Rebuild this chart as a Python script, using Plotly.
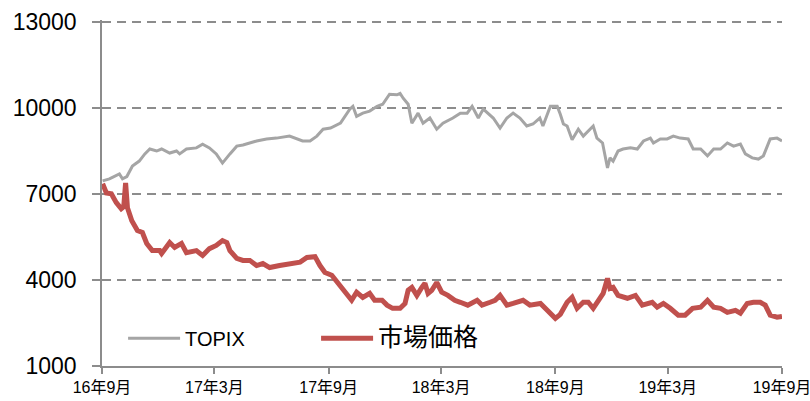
import plotly.graph_objects as go

# ---- data ----
topix_dates = [
    "2016-09-02", "2016-09-13", "2016-09-29", "2016-10-04", "2016-10-11", "2016-10-20", "2016-10-31",
    "2016-11-09", "2016-11-17", "2016-11-28", "2016-12-06", "2016-12-19", "2016-12-30", "2017-01-04",
    "2017-01-15", "2017-01-31", "2017-02-10", "2017-02-21", "2017-03-04", "2017-03-14", "2017-03-26",
    "2017-04-06", "2017-04-16", "2017-04-27", "2017-05-08", "2017-05-24", "2017-06-09", "2017-06-30",
    "2017-07-12", "2017-07-21", "2017-08-02", "2017-08-13", "2017-08-23", "2017-09-04", "2017-09-20",
    "2017-10-05", "2017-10-10", "2017-10-16", "2017-10-26", "2017-11-06", "2017-11-18", "2017-11-27",
    "2017-12-08", "2017-12-20", "2017-12-25", "2017-12-30", "2018-01-07", "2018-01-13", "2018-01-23",
    "2018-01-31", "2018-02-11", "2018-02-22", "2018-03-04", "2018-03-20", "2018-04-01", "2018-04-12",
    "2018-04-20", "2018-04-30", "2018-05-08", "2018-05-24", "2018-06-04", "2018-06-15", "2018-06-25",
    "2018-07-06", "2018-07-17", "2018-07-27", "2018-08-07", "2018-08-12", "2018-08-24", "2018-09-04",
    "2018-09-09", "2018-09-14", "2018-09-20", "2018-09-28", "2018-10-08", "2018-10-16", "2018-11-01",
    "2018-11-07", "2018-11-16", "2018-11-24", "2018-11-28", "2018-12-03", "2018-12-11", "2018-12-19",
    "2018-12-31", "2019-01-11", "2019-01-21", "2019-02-01", "2019-02-06", "2019-02-17", "2019-02-28",
    "2019-03-10", "2019-03-21", "2019-04-03", "2019-04-11", "2019-04-23", "2019-05-04", "2019-05-14",
    "2019-05-25", "2019-06-05", "2019-06-15", "2019-06-26", "2019-07-04", "2019-07-15", "2019-07-25",
    "2019-08-02", "2019-08-13", "2019-08-24", "2019-09-01",
]
topix_values = [
    7450, 7520, 7690, 7520, 7600, 7970, 8140,
    8390, 8560, 8490, 8560, 8420, 8490, 8390,
    8560, 8600, 8730, 8600, 8390, 8070, 8390,
    8660, 8700, 8770, 8840, 8910, 8940, 9010,
    8900, 8840, 8840, 9010, 9250, 9290, 9460,
    9950, 10050, 9700, 9810, 9880, 10050, 10120,
    10470, 10450, 10500, 10330, 10120, 9460, 9810,
    9460, 9640, 9250, 9460, 9640, 9810, 9810,
    10050, 9640, 9950, 9640, 9290, 9640, 9810,
    9640, 9360, 9430, 9640, 9360, 10050, 10050,
    9770, 9430, 9360, 8880, 9250, 9010, 9360,
    8940, 8770, 7900, 8250, 8140, 8490, 8560,
    8600, 8560, 8840, 8940, 8770, 8910, 8910,
    9010, 8940, 8910, 8560, 8560, 8320, 8560,
    8560, 8770, 8660, 8730, 8390, 8250, 8210,
    8320, 8910, 8940, 8840,
]

price_dates = [
    "2016-09-02", "2016-09-08", "2016-09-16", "2016-09-24", "2016-10-02", "2016-10-06", "2016-10-09",
    "2016-10-12", "2016-10-19", "2016-10-28", "2016-11-05", "2016-11-12", "2016-11-21", "2016-12-03",
    "2016-12-06", "2016-12-19", "2016-12-27", "2017-01-07", "2017-01-15", "2017-01-31", "2017-02-10",
    "2017-02-21", "2017-03-04", "2017-03-14", "2017-03-21", "2017-03-26", "2017-04-06", "2017-04-16",
    "2017-04-27", "2017-05-08", "2017-05-18", "2017-05-29", "2017-06-14", "2017-06-30", "2017-07-17",
    "2017-07-28", "2017-08-10", "2017-08-18", "2017-08-26", "2017-09-06", "2017-09-19", "2017-09-30",
    "2017-10-08", "2017-10-16", "2017-10-26", "2017-11-06", "2017-11-14", "2017-11-26", "2017-12-04",
    "2017-12-13", "2017-12-25", "2018-01-02", "2018-01-07", "2018-01-13", "2018-01-21", "2018-01-29",
    "2018-02-03", "2018-02-08", "2018-02-14", "2018-02-22", "2018-03-02", "2018-03-12", "2018-03-23",
    "2018-04-01", "2018-04-05", "2018-04-13", "2018-04-28", "2018-05-06", "2018-05-19", "2018-05-27",
    "2018-06-04", "2018-06-15", "2018-06-25", "2018-07-11", "2018-07-22", "2018-08-08", "2018-08-19",
    "2018-09-01", "2018-09-09", "2018-09-20", "2018-09-28", "2018-10-06", "2018-10-16", "2018-10-24",
    "2018-11-01", "2018-11-09", "2018-11-17", "2018-11-24", "2018-11-28", "2018-12-03", "2018-12-11",
    "2018-12-26", "2019-01-08", "2019-01-19", "2019-02-04", "2019-02-12", "2019-02-22", "2019-03-05",
    "2019-03-18", "2019-03-29", "2019-04-10", "2019-04-23", "2019-05-04", "2019-05-14", "2019-05-25",
    "2019-06-05", "2019-06-18", "2019-06-26", "2019-07-07", "2019-07-17", "2019-07-28", "2019-08-05",
    "2019-08-13", "2019-08-24", "2019-09-01",
]
price_values = [
    7350, 7030, 7000, 6690, 6480, 6550, 7380,
    6510, 6060, 5720, 5650, 5270, 5020, 5020,
    4920, 5300, 5130, 5270, 4950, 5020, 4850,
    5090, 5200, 5370, 5300, 5020, 4750, 4680,
    4680, 4500, 4570, 4430, 4500, 4550, 4620,
    4780, 4810, 4500, 4260, 4160, 3810, 3570,
    3290, 3570, 3390, 3530, 3290, 3290, 3120,
    3010, 3010, 3180, 3640, 3740, 3460, 3740,
    3880, 3530, 3640, 3910, 3570, 3460, 3290,
    3220, 3180, 3120, 3290, 3120, 3220, 3290,
    3460, 3120, 3180, 3290, 3120, 3180, 2940,
    2660, 2800, 3220, 3390, 3010, 3220, 3220,
    3010, 3290, 3530, 4050, 3700, 3740, 3460,
    3360, 3460, 3120, 3220, 3050, 3180, 3010,
    2770, 2770, 3010, 3050, 3290, 3050, 3010,
    2870, 2940, 2840, 3180, 3220, 3220, 3120,
    2770, 2700, 2730,
]

tick_dates = ["2016-09-01", "2017-03-01", "2017-09-01", "2018-03-01",
              "2018-09-01", "2019-03-01", "2019-09-01"]
tick_labels = ["16年9月", "17年3月", "17年9月", "18年3月", "18年9月", "19年3月", "19年9月"]
y_ticks = [1000, 4000, 7000, 10000, 13000]
y_labels = ["1000", "4000", "7000", "10000", "13000"]

FONT = "Liberation Sans, Noto Sans CJK JP, sans-serif"

fig = go.Figure()
fig.add_trace(go.Scatter(
    x=topix_dates, y=topix_values, mode="lines", name="TOPIX",
    line=dict(color="#a5a5a5", width=3),
))
fig.add_trace(go.Scatter(
    x=price_dates, y=price_values, mode="lines",
    name="<span style='font-size:25px'>市場価格</span>",
    line=dict(color="#c0504d", width=5),
))

fig.update_layout(
    width=810, height=401,
    margin=dict(l=102, r=28, t=20, b=35),
    paper_bgcolor="white", plot_bgcolor="white",
    font=dict(family=FONT, color="#000000"),
    showlegend=True,
    legend=dict(
        orientation="h", x=0.031, y=0.08, xanchor="left", yanchor="middle",
        bgcolor="rgba(0,0,0,0)", itemwidth=52, entrywidth=126, entrywidthmode="pixels",
        font=dict(family=FONT, size=20, color="#000000"),
        tracegroupgap=0,
    ),
    xaxis=dict(
        type="date", range=["2016-09-01", "2019-09-01"], automargin=False,
        tickmode="array", tickvals=tick_dates, ticktext=tick_labels,
        tickfont=dict(family=FONT, size=16, color="#000000"),
        ticklabeloverflow="allow",
        showgrid=False, zeroline=False,
        showline=True, linecolor="#8c8c8c", linewidth=1.5,
        ticks="outside", ticklen=6, tickcolor="#8c8c8c", tickwidth=1.5,
    ),
    yaxis=dict(
        range=[1000, 13055], automargin=False, tickmode="array",
        tickvals=y_ticks, ticktext=y_labels,
        tickfont=dict(family=FONT, size=23, color="#000000"),
        ticklabeloverflow="allow",
        showgrid=True, gridcolor="#8c8c8c", gridwidth=1.5, griddash="9px,6px",
        zeroline=False,
        showline=True, linecolor="#8c8c8c", linewidth=1.5,
        ticks="outside", ticklen=8, tickcolor="#8c8c8c", tickwidth=1.5,
        ticklabelstandoff=11,
    ),
)

# remove the browser's default 8px page margin so the figure fills the window
fig.write_html(
    "out.html",
    config={"displayModeBar": False},
    post_script="document.body.style.margin='0';",
)
